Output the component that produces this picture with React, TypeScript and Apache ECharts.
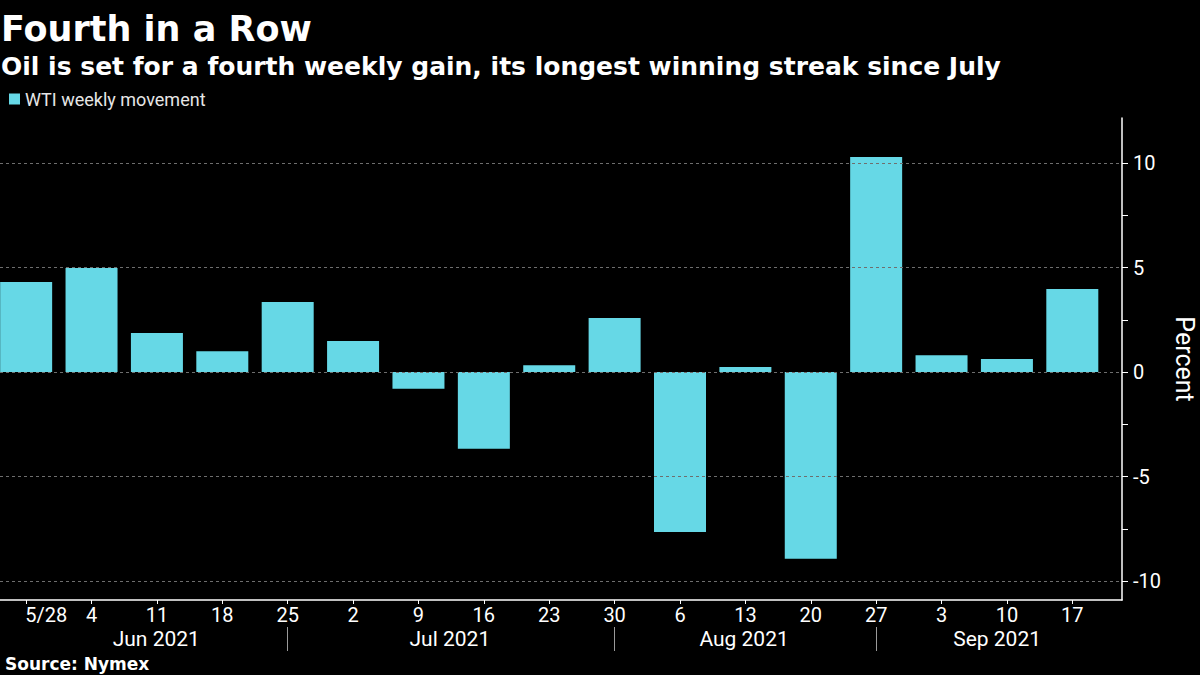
import React, { useEffect, useRef } from "react";
import * as echarts from "echarts";

const weekLabels = ["5/28", "4", "11", "18", "25", "2", "9", "16", "23", "30", "6", "13", "20", "27", "3", "10", "17"];
const wtiWeekly = [4.31, 4.98, 1.87, 1.0, 3.35, 1.48, -0.8, -3.67, 0.33, 2.58, -7.65, 0.24, -8.93, 10.29, 0.81, 0.62, 3.97];
const monthLabels = ["Jun 2021", "Jul 2021", "Aug 2021", "Sep 2021"];
const monthCenters = [1.99, 6.48, 10.98, 14.85];
const monthBreaks = [4, 9, 13];
const yLabelValues = [-10, -5, 0, 5, 10];
const yTickValues = [-10, -7.5, -5, -2.5, 0, 2.5, 5, 7.5, 10];

const TITLE = "Fourth in a Row";
const SUBTITLE = "Oil is set for a fourth weekly gain, its longest winning streak since July";
const SOURCE = "Source: Nymex";
const SERIES_NAME = "WTI weekly movement";

const FONT = "Roboto, 'Noto Sans', sans-serif";
const HEAD_FONT = "'DejaVu Sans', sans-serif";
const BAR_COLOR = "#66d8e6";

export default function App() {
  const ref = useRef<HTMLDivElement>(null);

  useEffect(() => {
    if (!ref.current) return;
    const chart = echarts.init(ref.current, undefined, { renderer: "svg" });
    const weekIdx = weekLabels.map((_, i) => i);
    const xMin = -0.4;
    const xMax = 16.76;

    chart.setOption({
      animation: false,
      backgroundColor: "#000000",
      textStyle: { fontFamily: FONT },
      grid: {
        left: 0,
        right: 78,
        top: 118,
        bottom: 75,
        containLabel: false,
        outerBoundsMode: "none",
      },
      legend: {
        show: true,
        left: 9,
        top: 90,
        padding: 0,
        itemWidth: 11,
        itemHeight: 11,
        icon: "rect",
        textStyle: { color: "#e6e6e6", fontSize: 18, fontFamily: FONT },
        data: [SERIES_NAME],
      },
      graphic: [
        {
          type: "text",
          left: 1,
          top: 11,
          style: { text: TITLE, fill: "#ffffff", font: `bold 35px ${HEAD_FONT}` },
        },
        {
          type: "text",
          left: 1,
          top: 54,
          style: { text: SUBTITLE, fill: "#ffffff", font: `bold 25px ${HEAD_FONT}` },
        },
        {
          type: "text",
          left: 5,
          top: 655,
          style: { text: SOURCE, fill: "#ffffff", font: `bold 17px ${HEAD_FONT}` },
        },
      ],
      xAxis: [
        {
          type: "value",
          min: xMin,
          max: xMax,
          position: "bottom",
          axisLine: { show: true, onZero: false, lineStyle: { color: "#ffffff", width: 1.5 } },
          axisTick: { show: true, customValues: weekIdx, length: 4, lineStyle: { color: "#ffffff" } },
          axisLabel: {
            show: true,
            customValues: weekIdx,
            color: "#ffffff",
            fontSize: 20,
            fontFamily: FONT,
            margin: 5,
            formatter: (v: number) => {
              const i = Math.round(v);
              return i === 0 ? `{first|${weekLabels[i]}}` : weekLabels[i];
            },
            rich: {
              first: { fontSize: 20, color: "#ffffff", fontFamily: FONT, padding: [0, 0, 0, 40] },
            },
          },
          splitLine: { show: false },
        },
        {
          type: "value",
          min: xMin,
          max: xMax,
          position: "bottom",
          offset: 27,
          axisLine: { show: false, onZero: false },
          axisTick: { show: true, customValues: monthBreaks, length: 24, lineStyle: { color: "#9a9a9a" } },
          axisLabel: {
            show: true,
            customValues: monthCenters,
            color: "#ffffff",
            fontSize: 21,
            fontFamily: FONT,
            margin: 1,
            formatter: (v: number) => {
              let best = 0;
              monthCenters.forEach((c, i) => {
                if (Math.abs(c - v) < Math.abs(monthCenters[best] - v)) best = i;
              });
              return monthLabels[best];
            },
          },
          splitLine: { show: false },
        },
      ],
      yAxis: {
        type: "value",
        position: "right",
        min: -10.9,
        max: 12.15,
        name: "Percent",
        nameLocation: "middle",
        nameRotate: -90,
        nameGap: 50,
        nameTextStyle: { color: "#ffffff", fontSize: 25, fontFamily: FONT },
        axisLine: { show: true, onZero: false, lineStyle: { color: "#ffffff", width: 1.5 } },
        axisTick: { show: true, customValues: yTickValues, length: 6, lineStyle: { color: "#ffffff" } },
        axisLabel: {
          show: true,
          customValues: yLabelValues,
          color: "#ffffff",
          fontSize: 20,
          fontFamily: FONT,
          margin: 11,
        },
        splitLine: { show: false },
      },
      series: [
        {
          type: "line",
          name: "grid",
          data: [],
          z: 1,
          silent: true,
          markLine: {
            silent: true,
            symbol: "none",
            label: { show: false },
            lineStyle: { color: "#6e6e6e", type: [3, 3], width: 1 },
            data: yLabelValues.map((v) => ({ yAxis: v })),
          },
        },
        {
          type: "bar",
          name: SERIES_NAME,
          z: 3,
          barWidth: 52,
          itemStyle: { color: BAR_COLOR },
          data: wtiWeekly.map((v, i) => [i, v]),
        },
      ],
    });

    return () => chart.dispose();
  }, []);

  return <div ref={ref} style={{ width: 1200, height: 675, position: "absolute", left: 0, top: 0 }} />;
}
